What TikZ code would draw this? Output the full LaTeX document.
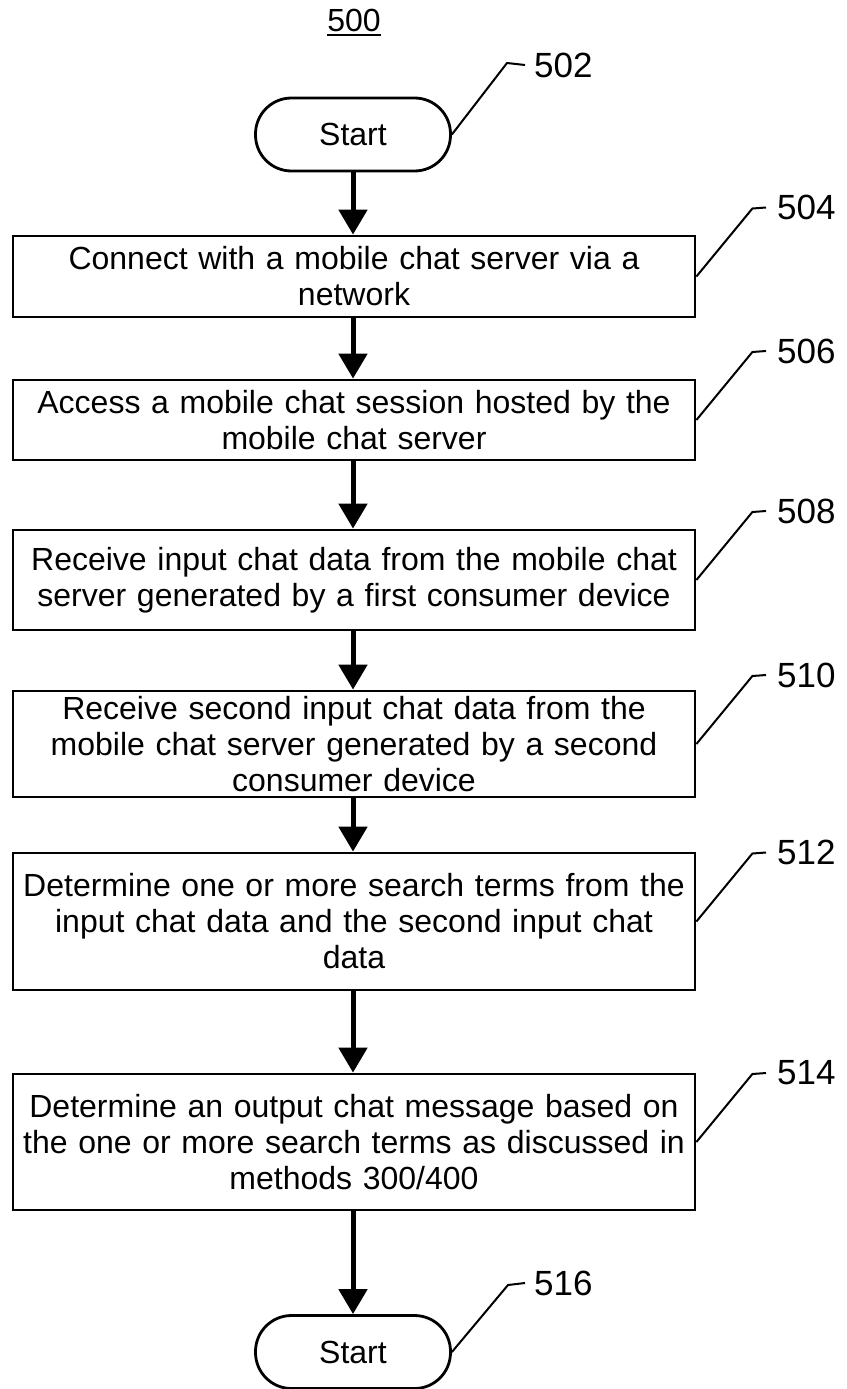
\documentclass[tikz,border=0pt]{standalone}
\usepackage{fontspec}
\setmainfont{Liberation Sans}
\usetikzlibrary{arrows.meta,calc}
\begin{document}
\begin{tikzpicture}[x=1pt,y=-1pt,
  box/.style={draw, line width=2.8pt, minimum width=682pt, inner sep=0pt,
    text width=680pt, align=center, font=\fontsize{32}{36}\selectfont},
  term/.style={draw, line width=2.8pt, rounded corners=36pt, minimum width=195pt,
    minimum height=73pt, inner sep=0pt, font=\fontsize{32}{36}\selectfont},
  flow/.style={line width=5pt, -{Triangle[width=28pt,length=25pt]}},
  lead/.style={line width=2pt},
  refnum/.style={anchor=west, inner sep=0pt, font=\fontsize{35}{40}\selectfont}]
\useasboundingbox (0,0) rectangle (846,1389);

% title
\node[inner sep=0pt, anchor=base, font=\fontsize{32}{36}\selectfont] (title) at (354,32) {500};
\draw[line width=2pt] ([yshift=-2.5pt]title.south west) -- ([yshift=-2.5pt]title.south east);

% nodes
\node[term] (start) at (353,134.5) {Start};
\node[box, minimum height=81pt] (b504) at (354,276.5) {Connect with a mobile chat server via a\\network};
\node[box, minimum height=80pt] (b506) at (354,420) {Access a mobile chat session hosted by the\\mobile chat server};
\node[box, minimum height=100pt] (b508) at (354,580) {Receive input chat data from the mobile chat\\server generated by a first consumer device};
\node[box, minimum height=106pt] (b510) at (354,744) {Receive second input chat data from the\\mobile chat server generated by a second\\consumer device};
\node[box, minimum height=137pt] (b512) at (354,921.5) {Determine one or more search terms from the\\input chat data and the second input chat\\data};
\node[box, minimum height=136pt] (b514) at (354,1142) {Determine an output chat message based on\\the one or more search terms as discussed in\\methods 300/400};
\node[term] (stop) at (353,1352) {Start};

% flow arrows
\draw[flow] (start.south) -- (start.south |- b504.north);
\draw[flow] (b504.south -| start) -- (start |- b506.north);
\draw[flow] (b506.south -| start) -- (start |- b508.north);
\draw[flow] (b508.south -| start) -- (start |- b510.north);
\draw[flow] (b510.south -| start) -- (start |- b512.north);
\draw[flow] (b512.south -| start) -- (start |- b514.north);
\draw[flow] (b514.south -| start) -- (stop.north);

% reference numerals
\node[refnum] (l502) at (534,65) {502};
\node[refnum] (l504) at (777,207.5) {504};
\node[refnum] (l506) at (777,351) {506};
\node[refnum] (l508) at (777,511) {508};
\node[refnum] (l510) at (777,675) {510};
\node[refnum] (l512) at (777,852.5) {512};
\node[refnum] (l514) at (777,1073) {514};
\node[refnum] (l516) at (534,1283) {516};

% leader lines
\draw[lead] (start.east) -- (507,63) -- ($(l502.west)+(-9,0)$);
\draw[lead] (b504.east) -- ++(56,-68) -- ($(l504.west)+(-11,0)$);
\draw[lead] (b506.east) -- ++(56,-68) -- ($(l506.west)+(-11,0)$);
\draw[lead] (b508.east) -- ++(56,-68) -- ($(l508.west)+(-11,0)$);
\draw[lead] (b510.east) -- ++(56,-68) -- ($(l510.west)+(-11,0)$);
\draw[lead] (b512.east) -- ++(56,-68) -- ($(l512.west)+(-11,0)$);
\draw[lead] (b514.east) -- ++(56,-68) -- ($(l514.west)+(-11,0)$);
\draw[lead] (stop.east) -- (508,1285) -- ($(l516.west)+(-9,0)$);
\end{tikzpicture}
\end{document}
